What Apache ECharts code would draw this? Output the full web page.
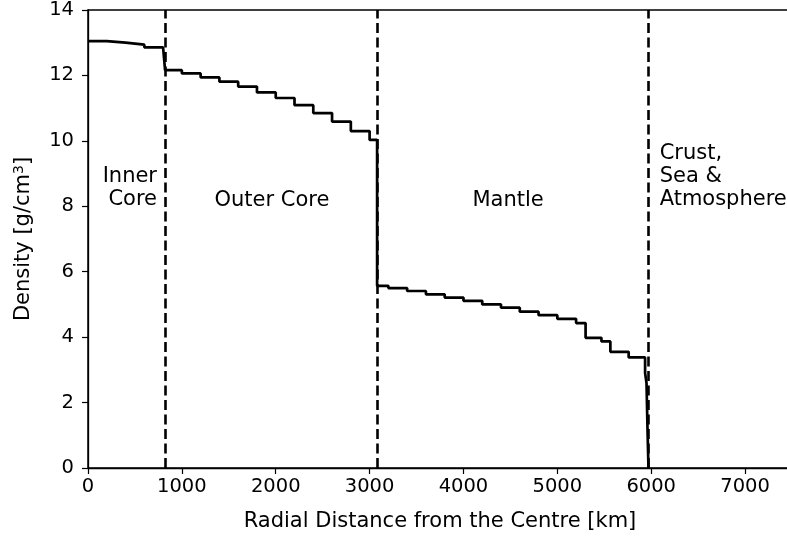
<!DOCTYPE html>
<html>
<head>
<meta charset="utf-8">
<script src="https://cdn.jsdelivr.net/npm/echarts@6/dist/echarts.min.js"></script>
<style>html,body{margin:0;padding:0;background:#fff;}#c{width:787px;height:537px;}</style>
</head>
<body>
<div id="c"></div>
<script>
// Radial distance (km) where each density step begins
const radius = [0,200,400,600,800,821,1000,1200,1400,1600,1800,2000,2200,2400,2600,2800,3000,3080,3200,3400,3600,3800,4000,4200,4400,4600,4800,5000,5200,5301,5470,5565,5760,5935,5950,5962,5971];
// Density (g/cm^3) for each step
const density = [13.05,13.00,12.94,12.86,12.80,12.16,12.06,11.94,11.81,11.66,11.48,11.31,11.09,10.85,10.59,10.30,10.03,5.57,5.50,5.41,5.31,5.21,5.11,5.00,4.90,4.78,4.67,4.56,4.43,3.98,3.87,3.55,3.38,2.9,2.6,1.02,0];
// Layer boundaries (km)
const boundaries = [821, 3080, 5971];
// Layer names
const layerNames = ['Inner\nCore', 'Outer Core', 'Mantle', 'Crust,\nSea &\nAtmosphere'];
const xTicks = [0,1000,2000,3000,4000,5000,6000,7000];
const yTicks = [0,2,4,6,8,10,12,14];

const FONT = 'DejaVu Sans';
const chart = echarts.init(document.getElementById('c'), null, {renderer: 'canvas'});
const pts = radius.map((r, i) => [r, density[i]]);
const labelAnchors = [
  {coord: [735, 8.56], align: 'right'},
  {coord: [1960, 8.19], align: 'center'},
  {coord: [4475, 8.19], align: 'center'},
  {coord: [6090, 8.9], align: 'left'}
];
const option = {
  animation: false,
  backgroundColor: '#fff',
  grid: {left: 88, top: 10, right: -5, bottom: 69, show: true, borderColor: '#000', borderWidth: 1.5,
    backgroundColor: 'transparent', containLabel: false, outerBoundsMode: 'none'},
  xAxis: {
    type: 'value', min: 0, max: 7500, interval: 1000,
    name: 'Radial Distance from the Centre [km]', nameLocation: 'middle', nameGap: 43,
    nameTextStyle: {fontFamily: FONT, fontSize: 21, color: '#000'},
    axisLine: {show: true, lineStyle: {color: '#000', width: 1.3}},
    axisTick: {show: true, inside: false, length: 6, lineStyle: {color: '#000', width: 1.2}},
    axisLabel: {fontFamily: FONT, fontSize: 19.5, color: '#000', margin: 9,
      formatter: v => xTicks.includes(v) ? String(v) : ''},
    splitLine: {show: false}
  },
  yAxis: {
    type: 'value', min: 0, max: 14, interval: 2,
    name: 'Density [g/cm{sup|3}]', nameLocation: 'middle', nameGap: 52, nameRotate: 90,
    nameTextStyle: {fontFamily: FONT, fontSize: 21, color: '#000',
      rich: {sup: {fontFamily: FONT, fontSize: 14, color: '#000', verticalAlign: 'top', lineHeight: 24}}},
    axisLine: {show: true, lineStyle: {color: '#000', width: 1.3}},
    axisTick: {show: true, inside: false, length: 6, lineStyle: {color: '#000', width: 1.2}},
    axisLabel: {fontFamily: FONT, fontSize: 19.5, color: '#000', margin: 14,
      formatter: v => yTicks.includes(v) ? String(v) : ''},
    splitLine: {show: false}
  },
  series: [{
    type: 'line',
    data: pts,
    step: 'end',
    showSymbol: false,
    symbol: 'none',
    lineStyle: {color: '#000', width: 2.7},
    clip: true,
    markLine: {
      silent: true,
      symbol: ['none', 'none'],
      label: {show: false},
      lineStyle: {color: '#000', width: 2.6, type: [10, 4.5]},
      data: boundaries.map(b => ({xAxis: b}))
    },
    markPoint: {
      silent: true,
      symbol: 'circle',
      symbolSize: 0,
      data: labelAnchors.map((a, i) => ({
        coord: a.coord,
        label: {show: true, position: 'inside', formatter: layerNames[i], align: a.align,
          verticalAlign: 'middle', fontFamily: FONT, fontSize: 21, color: '#000', lineHeight: 23}
      }))
    }
  }]
};
chart.setOption(option);
</script>
</body>
</html>
